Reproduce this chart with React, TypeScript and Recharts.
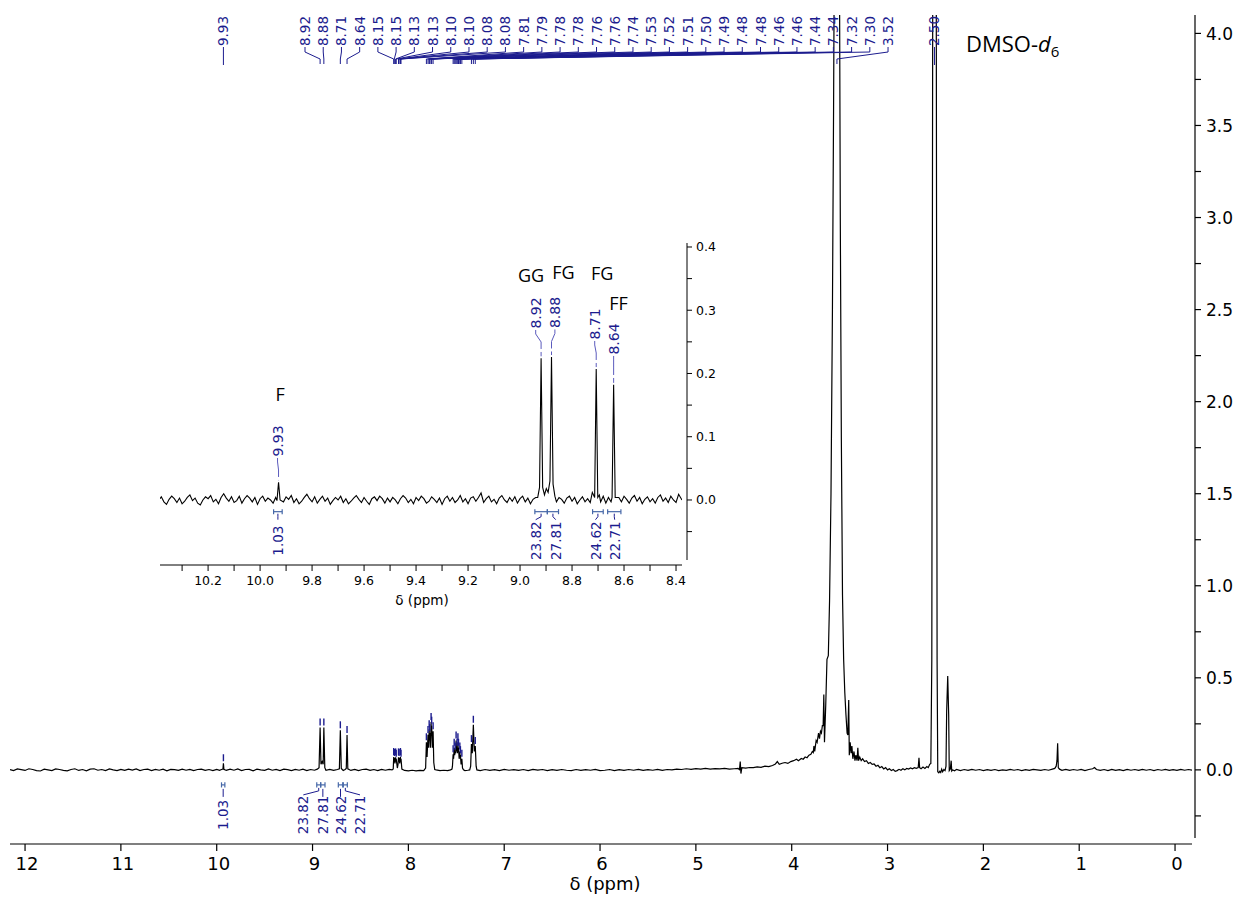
import React from 'react';
import { LineChart, Line, XAxis, YAxis, ReferenceDot, ReferenceLine } from 'recharts';

type Pt = [number, number];

// ---------------- axis ticks ----------------
const mainXTicks = [0, 1, 2, 3, 4, 5, 6, 7, 8, 9, 10, 11, 12];
const mainYTicks = [-0.25, 0, 0.25, 0.5, 0.75, 1, 1.25, 1.5, 1.75, 2, 2.25, 2.5, 2.75, 3, 3.25, 3.5, 3.75, 4];
const insetXTicks = [8.4, 8.5, 8.6, 8.7, 8.8, 8.9, 9.0, 9.1, 9.2, 9.3, 9.4, 9.5, 9.6, 9.7, 9.8, 9.9, 10.0, 10.1, 10.2, 10.3];
const insetYTicks = [-0.05, 0, 0.05, 0.1, 0.15, 0.2, 0.25, 0.3, 0.35, 0.4];

// ---------------- main spectrum (ppm, intensity) ----------------
const mainDownfield: Pt[] = [
  [12.157, 0.002], [12.12, -0.004], [12.08, 0.005], [12.04, 0.001], [12.0, -0.003], [11.96, 0.006], [11.92, 0.002], [11.88, -0.004], [11.84, -0.006], [11.8, 0.004],
  [11.76, 0.0], [11.72, -0.004], [11.68, 0.005], [11.64, 0.002], [11.6, -0.003], [11.56, -0.005], [11.52, 0.002], [11.48, 0.006], [11.44, -0.003], [11.4, 0.002],
  [11.36, -0.005], [11.32, 0.004], [11.28, 0.006], [11.24, -0.002], [11.2, 0.002], [11.16, -0.004], [11.12, 0.005], [11.08, 0.0], [11.04, -0.004], [11.0, 0.003],
  [10.96, -0.003], [10.92, 0.004], [10.88, -0.001], [10.84, 0.005], [10.8, -0.004], [10.76, 0.002], [10.72, 0.004], [10.68, -0.004], [10.64, 0.003], [10.6, -0.002],
  [10.56, 0.004], [10.52, -0.005], [10.48, 0.003], [10.44, 0.001], [10.4, -0.003], [10.36, 0.004], [10.32, -0.002], [10.28, 0.003], [10.24, -0.004], [10.2, 0.002],
  [10.16, 0.004], [10.12, -0.003], [10.08, 0.002], [10.04, -0.004], [10.0, 0.003], [9.97, -0.002], [9.95, 0.002],
  [9.935, 0.004], [9.93, 0.036], [9.925, 0.003],
  [9.9, -0.003], [9.86, 0.004], [9.82, -0.002], [9.78, 0.005], [9.74, -0.004], [9.7, 0.002], [9.66, 0.003], [9.62, -0.005], [9.58, 0.004], [9.54, 0.0],
  [9.5, -0.003], [9.46, 0.005], [9.42, -0.002], [9.38, 0.003], [9.34, -0.004], [9.3, 0.004], [9.26, 0.001], [9.22, -0.004], [9.18, 0.003], [9.14, -0.002],
  [9.1, 0.004], [9.06, -0.004], [9.02, 0.002], [8.98, -0.002], [8.95, 0.004],
];
const mainLowFieldPeaks: Pt[] = [
  [8.932, 0.012], [8.921, 0.23], [8.912, 0.03], [8.9, 0.045], [8.889, 0.03], [8.882, 0.23], [8.872, 0.012],
  [8.86, -0.002], [8.82, 0.003], [8.78, -0.003], [8.74, 0.002],
  [8.72, 0.006], [8.71, 0.215], [8.7, 0.008],
  [8.68, -0.003], [8.66, 0.002],
  [8.648, 0.008], [8.64, 0.19], [8.632, 0.006],
  [8.6, -0.003], [8.56, 0.003], [8.52, -0.004], [8.48, 0.002], [8.44, 0.004], [8.4, -0.003], [8.36, 0.002], [8.32, -0.004], [8.28, 0.003], [8.24, -0.002], [8.2, 0.003], [8.17, 0.0],
];
const mainAromatic: Pt[] = [
  [8.158, 0.005], [8.153, 0.07], [8.15, 0.045], [8.147, 0.065], [8.14, 0.035], [8.133, 0.068], [8.13, 0.045], [8.127, 0.06], [8.115, 0.01],
  [8.108, 0.03], [8.103, 0.068], [8.1, 0.045], [8.097, 0.065], [8.09, 0.035], [8.083, 0.07], [8.08, 0.045], [8.077, 0.06], [8.068, 0.004],
  [8.04, -0.003], [8.0, -0.005], [7.96, -0.002], [7.92, -0.005], [7.88, -0.003], [7.84, -0.004],
  [7.82, 0.01], [7.812, 0.15], [7.805, 0.07], [7.795, 0.19], [7.789, 0.12], [7.783, 0.22], [7.78, 0.16], [7.777, 0.2], [7.77, 0.12],
  [7.763, 0.26], [7.76, 0.2], [7.757, 0.24], [7.75, 0.12], [7.742, 0.21], [7.735, 0.04], [7.725, 0.002],
  [7.71, 0.0], [7.67, -0.004], [7.63, -0.002], [7.59, -0.004], [7.56, 0.0],
  [7.545, 0.004], [7.54, 0.02], [7.533, 0.085], [7.528, 0.06], [7.522, 0.12], [7.517, 0.08], [7.512, 0.1], [7.507, 0.09], [7.502, 0.16], [7.497, 0.1],
  [7.492, 0.12], [7.488, 0.09], [7.483, 0.15], [7.48, 0.11], [7.477, 0.12], [7.47, 0.06], [7.463, 0.1], [7.46, 0.07], [7.457, 0.08], [7.45, 0.03],
  [7.442, 0.06], [7.435, 0.01], [7.425, 0.0],
  [7.41, -0.004], [7.38, -0.002],
  [7.36, 0.0], [7.35, 0.02], [7.342, 0.14], [7.333, 0.09], [7.322, 0.245], [7.312, 0.1], [7.302, 0.13], [7.293, 0.02], [7.285, 0.0],
];
const mainMidBaseline: Pt[] = [
  [7.25, -0.004], [7.2, 0.002], [7.15, -0.003], [7.1, 0.001], [7.05, -0.004], [7.0, 0.003], [6.95, -0.002], [6.9, 0.001], [6.85, -0.003], [6.8, 0.002],
  [6.75, -0.004], [6.7, 0.003], [6.65, -0.001], [6.6, 0.002], [6.55, -0.004], [6.5, 0.001], [6.45, -0.003], [6.4, 0.002], [6.35, -0.002], [6.3, -0.004],
  [6.25, 0.002], [6.2, -0.003], [6.15, 0.001], [6.1, -0.002], [6.05, 0.003], [6.0, -0.004], [5.95, -0.002], [5.9, 0.002], [5.85, -0.004], [5.8, 0.001],
  [5.75, -0.003], [5.7, 0.002], [5.65, -0.002], [5.6, 0.003], [5.55, -0.003], [5.5, 0.001], [5.45, -0.002], [5.4, 0.003], [5.35, -0.003], [5.3, 0.002],
  [5.25, 0.0], [5.2, 0.004], [5.15, 0.002], [5.1, 0.006], [5.05, 0.003], [5.0, 0.007], [4.95, 0.004], [4.9, 0.008], [4.85, 0.004], [4.8, 0.007],
  [4.75, 0.005], [4.7, 0.008], [4.65, 0.004], [4.6, 0.006],
];
const mainWaterRegion: Pt[] = [
  [4.56, 0.008], [4.545, 0.002], [4.537, 0.045], [4.53, -0.02], [4.52, 0.012], [4.48, 0.01], [4.44, 0.013], [4.4, 0.012], [4.36, 0.016], [4.32, 0.014],
  [4.28, 0.02], [4.24, 0.018], [4.2, 0.024], [4.17, 0.032], [4.15, 0.045], [4.13, 0.03], [4.1, 0.036], [4.07, 0.04], [4.04, 0.035], [4.01, 0.045],
  [3.98, 0.05], [3.95, 0.058], [3.93, 0.05], [3.9, 0.062], [3.88, 0.058], [3.86, 0.07], [3.84, 0.066], [3.82, 0.08], [3.8, 0.085], [3.785, 0.1],
  [3.775, 0.094], [3.768, 0.13], [3.76, 0.1], [3.745, 0.16], [3.735, 0.15], [3.72, 0.2], [3.71, 0.17], [3.7, 0.21], [3.69, 0.2], [3.68, 0.24],
  [3.672, 0.24], [3.665, 0.41], [3.658, 0.15], [3.645, 0.35], [3.632, 0.6], [3.618, 0.62], [3.605, 0.92], [3.59, 1.5], [3.575, 2.5], [3.563, 3.6],
  [3.554, 4.6], [3.542, 9], [3.528, 30], [3.514, 9], [3.503, 4.6], [3.493, 3.0], [3.482, 1.8], [3.47, 0.95], [3.458, 0.6], [3.446, 0.42],
  [3.434, 0.3], [3.422, 0.2], [3.414, 0.19], [3.405, 0.38], [3.399, 0.08], [3.39, 0.15], [3.38, 0.09], [3.372, 0.13], [3.362, 0.06], [3.35, 0.1],
  [3.34, 0.05], [3.33, 0.08], [3.318, 0.05], [3.31, 0.12], [3.302, 0.05], [3.29, 0.07], [3.275, 0.05], [3.26, 0.06], [3.24, 0.045], [3.22, 0.05],
  [3.2, 0.035], [3.18, 0.04], [3.16, 0.03], [3.14, 0.032], [3.12, 0.02], [3.1, 0.025], [3.08, 0.012], [3.06, 0.018], [3.04, 0.005], [3.02, 0.012],
  [3.0, 0.0], [2.98, 0.006], [2.96, -0.004], [2.94, 0.002], [2.92, -0.008], [2.9, -0.004], [2.88, 0.003], [2.86, -0.002], [2.84, 0.006], [2.82, 0.0],
  [2.8, 0.008], [2.78, 0.004], [2.76, 0.01], [2.74, 0.006], [2.72, 0.012], [2.7, 0.008], [2.68, 0.012], [2.672, 0.065], [2.665, 0.012], [2.65, 0.006],
  [2.63, 0.015], [2.61, 0.008], [2.59, 0.018], [2.575, 0.012], [2.56, 0.03], [2.548, 0.035],
];
const mainSolventRegion: Pt[] = [
  [2.538, 0.6], [2.528, 4.4], [2.51, 16], [2.492, 4.4], [2.483, 0.6], [2.476, -0.01], [2.465, -0.016], [2.455, -0.008], [2.445, -0.014], [2.435, 0.004],
  [2.425, -0.01], [2.412, 0.002], [2.4, -0.004], [2.39, 0.02], [2.383, 0.32], [2.372, 0.51], [2.362, 0.3], [2.356, -0.004], [2.345, 0.004], [2.336, 0.05],
  [2.33, -0.006], [2.32, 0.0], [2.3, -0.005],
];
const mainUpfield: Pt[] = [
  [2.28, 0.003], [2.24, -0.004], [2.2, 0.002], [2.16, -0.003], [2.12, 0.003], [2.08, -0.002], [2.04, 0.002], [2.0, -0.004], [1.96, 0.001], [1.92, -0.003],
  [1.88, 0.002], [1.84, -0.004], [1.8, 0.0], [1.76, -0.003], [1.72, 0.003], [1.68, -0.002], [1.64, 0.002], [1.6, -0.004], [1.56, 0.001], [1.52, -0.003],
  [1.48, 0.003], [1.44, 0.0], [1.4, -0.003], [1.36, 0.002], [1.32, -0.002], [1.28, 0.004],
  [1.255, 0.008], [1.24, 0.02], [1.232, 0.05], [1.225, 0.145], [1.218, 0.012], [1.205, 0.004],
  [1.18, -0.002], [1.14, 0.003], [1.1, -0.003], [1.06, 0.002], [1.02, -0.002], [0.98, 0.003], [0.94, -0.004], [0.9, 0.002], [0.86, 0.006], [0.84, 0.013],
  [0.82, 0.002], [0.78, -0.003], [0.74, 0.002], [0.7, -0.004], [0.66, 0.003], [0.62, -0.003], [0.58, 0.001], [0.54, -0.004], [0.5, 0.003], [0.46, -0.002],
  [0.42, 0.002], [0.38, -0.003], [0.34, 0.003], [0.3, -0.002], [0.26, 0.002], [0.22, -0.004], [0.18, 0.002], [0.14, -0.002], [0.1, 0.003], [0.06, -0.003],
  [0.02, 0.001], [-0.02, -0.003], [-0.06, 0.003], [-0.1, -0.002], [-0.14, 0.002], [-0.177, -0.001],
];

// ---------------- inset spectrum (ppm, intensity) ----------------
const insetSpectrum: Pt[] = [
  [10.385, 0.002], [10.38, 0.005], [10.37, -0.003], [10.36, -0.007], [10.35, 0.001], [10.34, 0.006], [10.33, 0.002], [10.32, -0.004], [10.31, 0.003], [10.3, -0.006],
  [10.29, -0.002], [10.28, 0.004], [10.27, 0.008], [10.26, -0.001], [10.25, 0.003], [10.24, -0.005], [10.23, -0.008], [10.22, 0.0], [10.21, 0.005], [10.2, 0.002],
  [10.19, 0.007], [10.18, -0.003], [10.17, 0.001], [10.16, -0.006], [10.15, 0.004], [10.14, 0.01], [10.13, 0.003], [10.12, -0.002], [10.11, 0.005], [10.1, -0.004],
  [10.09, -0.001], [10.08, 0.006], [10.07, -0.005], [10.06, 0.002], [10.05, 0.007], [10.04, 0.003], [10.03, -0.003], [10.02, 0.004], [10.01, -0.007], [10.0, 0.002],
  [9.99, 0.006], [9.98, -0.002], [9.97, 0.003], [9.96, 0.0], [9.95, -0.005], [9.94, 0.004], [9.935, -0.001], [9.929, 0.028], [9.923, 0.0],
  [9.91, -0.003], [9.9, 0.005], [9.89, 0.001], [9.88, 0.007], [9.87, -0.004], [9.86, 0.002], [9.85, -0.006], [9.84, -0.002], [9.83, 0.004], [9.82, 0.009],
  [9.81, 0.002], [9.8, -0.003], [9.79, 0.005], [9.78, -0.005], [9.77, 0.001], [9.76, 0.006], [9.75, -0.002], [9.74, 0.003], [9.73, -0.007], [9.72, -0.001],
  [9.71, 0.004], [9.7, 0.0], [9.69, 0.006], [9.68, -0.004], [9.67, 0.002], [9.66, -0.006], [9.65, -0.002], [9.64, 0.003], [9.63, 0.007], [9.62, 0.001],
  [9.61, -0.004], [9.6, 0.004], [9.59, -0.002], [9.58, -0.007], [9.57, 0.002], [9.56, 0.005], [9.55, -0.001], [9.54, 0.006], [9.53, 0.002], [9.52, -0.005],
  [9.51, 0.003], [9.5, -0.003], [9.49, 0.004], [9.48, 0.0], [9.47, -0.006], [9.46, 0.002], [9.45, 0.007], [9.44, 0.003], [9.43, -0.004], [9.42, 0.001],
  [9.41, -0.006], [9.4, 0.004], [9.39, -0.001], [9.38, 0.006], [9.37, 0.002], [9.36, -0.005], [9.35, -0.002], [9.34, 0.005], [9.33, 0.001], [9.32, -0.004],
  [9.31, 0.003], [9.3, -0.007], [9.29, 0.002], [9.28, 0.006], [9.27, -0.002], [9.26, 0.004], [9.25, -0.004], [9.24, 0.0], [9.23, 0.007], [9.22, -0.003],
  [9.21, 0.002], [9.2, -0.006], [9.19, 0.003], [9.18, 0.005], [9.17, -0.002], [9.16, 0.004], [9.15, 0.011], [9.14, -0.004], [9.13, 0.002], [9.12, 0.006],
  [9.11, -0.003], [9.1, 0.001], [9.09, -0.006], [9.08, 0.003], [9.07, 0.007], [9.06, 0.0], [9.05, -0.004], [9.04, 0.004], [9.03, -0.002], [9.02, 0.005],
  [9.01, -0.005], [9.0, 0.002], [8.99, 0.006], [8.98, -0.003], [8.97, 0.003], [8.96, -0.006], [8.95, 0.001], [8.94, 0.004],
  [8.932, 0.004], [8.925, 0.02], [8.919, 0.224], [8.913, 0.02], [8.906, 0.008], [8.899, 0.018], [8.892, 0.012], [8.885, 0.03], [8.879, 0.226], [8.873, 0.025], [8.866, 0.006],
  [8.86, -0.003], [8.85, 0.004], [8.84, 0.001], [8.83, -0.005], [8.82, 0.003], [8.81, 0.006], [8.8, -0.002], [8.79, 0.004], [8.78, -0.006], [8.77, 0.0],
  [8.76, 0.005], [8.75, -0.003], [8.74, 0.002], [8.73, -0.004], [8.722, 0.012], [8.713, 0.004], [8.707, 0.207], [8.701, 0.004], [8.695, 0.008], [8.69, -0.003],
  [8.68, 0.006], [8.67, -0.005], [8.66, 0.004], [8.65, -0.003], [8.646, 0.004], [8.64, 0.182], [8.634, 0.004],
  [8.62, 0.004], [8.61, -0.003], [8.6, 0.006], [8.59, 0.001], [8.58, -0.005], [8.57, 0.003], [8.56, 0.007], [8.55, -0.002], [8.54, 0.004], [8.53, -0.006],
  [8.52, 0.001], [8.51, 0.005], [8.5, -0.003], [8.49, 0.002], [8.48, -0.005], [8.47, 0.004], [8.46, 0.008], [8.45, -0.002], [8.44, 0.003], [8.43, -0.004],
  [8.42, 0.006], [8.41, 0.0], [8.4, -0.004], [8.39, 0.009], [8.377, 0.0],
];

// ---------------- peak picking (main) ----------------
const topLabels = ['8.92', '8.88', '8.71', '8.64', '8.15', '8.15', '8.13', '8.13', '8.10', '8.10', '8.08', '8.08', '7.81', '7.79', '7.78', '7.78', '7.76', '7.76', '7.74', '7.53', '7.52', '7.51', '7.50', '7.49', '7.48', '7.48', '7.46', '7.46', '7.44', '7.34', '7.32', '7.30', '3.52'];
const topPeakPpm = [8.921, 8.882, 8.71, 8.64, 8.153, 8.147, 8.133, 8.127, 8.103, 8.097, 8.083, 8.077, 7.812, 7.795, 7.783, 7.777, 7.763, 7.757, 7.742, 7.533, 7.522, 7.512, 7.502, 7.492, 7.483, 7.477, 7.463, 7.457, 7.442, 7.342, 7.322, 7.302, 3.528];
const topPeakHeight = [0.23, 0.23, 0.215, 0.19, 0.07, 0.065, 0.068, 0.06, 0.068, 0.065, 0.07, 0.06, 0.15, 0.19, 0.22, 0.2, 0.26, 0.24, 0.21, 0.085, 0.12, 0.1, 0.16, 0.12, 0.15, 0.12, 0.1, 0.08, 0.06, 0.14, 0.245, 0.13, 30];
const isolatedLabels = ['9.93', '2.50'];
const isolatedPpm = [9.93, 2.51];
const isolatedHeight = [0.036, 16];

// ---------------- integrals ----------------
const mainIntegralLabels = ['1.03', '23.82', '27.81', '24.62', '22.71'];
const mainIntegralFrom = [9.95, 8.956, 8.915, 8.731, 8.679];
const mainIntegralTo = [9.915, 8.915, 8.87, 8.685, 8.637];

const insetPeakLabels = ['9.93', '8.92', '8.88', '8.71', '8.64'];
const insetPeakPpm = [9.929, 8.919, 8.879, 8.707, 8.64];
const insetPeakHeight = [0.028, 0.224, 0.226, 0.207, 0.182];
const insetAssignments = ['F', 'GG', 'FG', 'FG', 'FF'];

const insetIntegralLabels = ['1.03', '23.82', '27.81', '24.62', '22.71'];
const insetIntegralFrom = [9.948, 8.943, 8.895, 8.721, 8.663];
const insetIntegralTo = [9.915, 8.895, 8.852, 8.68, 8.612];

// ---------------- styling / layout constants ----------------
const NAVY = '#1c1c8e';
const INT_BLUE = '#4668a8';
const DASH_BLUE = '#5b5bbd';
const AXIS_FONT = 'DejaVu Sans, Verdana, sans-serif';
const LABEL_FONT = 'Open Sans, Noto Sans, sans-serif';

const TOP_ANCHOR = 3.861; // y-level where pick lines meet
const TOP_LABEL_X0 = 305;
const TOP_LABEL_DX = 18.22;
const MAIN_INT_Y = -0.0815;
const INSET_INT_Y = -0.0185;
const INSET_PX_PER_UNIT = 632.5;

// label layout offsets for inset picks (pixels relative to peak x / baseline)
const insetLabelDx = [-1, -5.4, 3.4, -1.5, 0];
const insetLabelDy = [-59, -187, -187.5, -176, -161];
const insetAssignDx = [1.5, -10, 12, 6, 5];
const insetAssignDy = [-99, -218, -221, -220, -190];
const insetIntLabelDx = [0, -5.4, 2.8, -2.4, 0.4];
const mainIntLabelX = [221.7, 303.3, 321.7, 340.7, 360];

const mainData = [
  ...mainDownfield, ...mainLowFieldPeaks, ...mainAromatic, ...mainMidBaseline,
  ...mainWaterRegion, ...mainSolventRegion, ...mainUpfield,
].map(([ppm, v]) => ({ ppm, v }));
const insetData = insetSpectrum.map(([ppm, v]) => ({ ppm, v }));

// ---------------- tick renderers ----------------
const MainXTick = (p: any) => {
  const { x, y, payload } = p;
  return (
    <g>
      <line x1={x} x2={x} y1={y + 6} y2={y + 13} stroke="#000" strokeWidth={1.2} />
      <text x={x + 2} y={y + 32} textAnchor="middle" fontSize={18} fontFamily={AXIS_FONT} fill="#000">{String(payload.value)}</text>
    </g>
  );
};
const MainYTick = (p: any) => {
  const { x, y, payload } = p;
  const v = payload.value as number;
  const major = Math.abs(v * 2 - Math.round(v * 2)) < 1e-6;
  return (
    <g>
      <line x1={x + 3} x2={x + 9} y1={y} y2={y} stroke="#000" strokeWidth={1.2} />
      {major && (
        <text x={x + 14} y={y} dy="0.36em" textAnchor="start" fontSize={17} fontFamily={AXIS_FONT} fill="#000">{v.toFixed(1)}</text>
      )}
    </g>
  );
};
const InsetXTick = (p: any) => {
  const { x, y, payload } = p;
  const v = payload.value as number;
  const major = Math.round(v * 10) % 2 === 0;
  return (
    <g>
      <line x1={x} x2={x} y1={y + 5} y2={y + 11} stroke="#000" strokeWidth={1} />
      {major && (
        <text x={x} y={y + 25} textAnchor="middle" fontSize={12.5} fontFamily={AXIS_FONT} fill="#000">{v.toFixed(1)}</text>
      )}
    </g>
  );
};
const InsetYTick = (p: any) => {
  const { x, y, payload } = p;
  const v = payload.value as number;
  const major = Math.abs(v * 10 - Math.round(v * 10)) < 1e-6;
  return (
    <g>
      <line x1={x + 5} x2={x + 10} y1={y} y2={y} stroke="#000" strokeWidth={1} />
      {major && (
        <text x={x + 14} y={y} dy="0.36em" textAnchor="start" fontSize={12.5} fontFamily={AXIS_FONT} fill="#000">{v.toFixed(1)}</text>
      )}
    </g>
  );
};

// ---------------- annotation shapes ----------------
const RotText = ({ x, y, text, size, color }: any) => (
  <text transform={`translate(${x},${y}) rotate(-90)`} textAnchor="middle" dominantBaseline="central" fontSize={size} fontFamily={AXIS_FONT} fill={color}>{text}</text>
);

const makeTopPick = (lx: number | null, text: string) => (p: any) => {
  const { cx, cy } = p;
  const x0 = lx === null ? cx : lx;
  return (
    <g>
      <RotText x={x0} y={cy - 28} text={text} size={13.5} color={NAVY} />
      {lx === null ? (
        <line x1={cx} x2={cx} y1={cy - 12} y2={cy + 6} stroke={NAVY} strokeWidth={1} />
      ) : (
        <polyline points={`${lx},${cy - 12} ${lx},${cy - 7} ${cx},${cy} ${cx},${cy + 5}`} fill="none" stroke={NAVY} strokeWidth={1} />
      )}
    </g>
  );
};
const peakTopDash = (p: any) => (
  <line x1={p.cx} x2={p.cx} y1={p.cy - 2} y2={p.cy - 9} stroke={NAVY} strokeWidth={1.4} />
);
const makeMainIntLabel = (lx: number, text: string) => (p: any) => {
  const { cx, cy } = p;
  const straight = Math.abs(lx - cx) < 3;
  const x0 = straight ? cx : lx;
  return (
    <g>
      {straight ? (
        <line x1={cx} x2={cx} y1={cy + 4} y2={cy + 12} stroke={NAVY} strokeWidth={1} />
      ) : (
        <polyline points={`${cx},${cy + 3} ${cx},${cy + 6} ${lx},${cy + 10}`} fill="none" stroke={NAVY} strokeWidth={1} />
      )}
      <RotText x={x0} y={cy + 30} text={text} size={13.5} color={NAVY} />
    </g>
  );
};
const makeInsetPick = (i: number) => (p: any) => {
  const { cx, cy } = p;
  const lx = cx + insetLabelDx[i];
  const ly = cy + insetLabelDy[i];
  const top = cy - insetPeakHeight[i] * INSET_PX_PER_UNIT;
  const bottom = ly + 17;
  return (
    <g>
      <text x={cx + insetAssignDx[i]} y={cy + insetAssignDy[i]} textAnchor="middle" fontSize={18} fontFamily={LABEL_FONT} fill="#000">{insetAssignments[i]}</text>
      <RotText x={lx} y={ly} text={insetPeakLabels[i]} size={14} color={NAVY} />
      <polyline points={`${lx},${bottom} ${lx},${bottom + 4} ${cx},${bottom + 12}`} fill="none" stroke={DASH_BLUE} strokeWidth={1} />
      <line x1={cx} x2={cx} y1={bottom + 12} y2={top - 2} stroke={DASH_BLUE} strokeWidth={1} strokeDasharray="7 3" />
    </g>
  );
};
const makeInsetIntLabel = (dx: number, text: string) => (p: any) => {
  const { cx, cy } = p;
  const lx = cx + dx;
  return (
    <g>
      <polyline points={`${cx},${cy + 2} ${cx},${cy + 5} ${lx},${cy + 8}`} fill="none" stroke={NAVY} strokeWidth={1} />
      <RotText x={lx} y={cy + 29} text={text} size={13.5} color={NAVY} />
    </g>
  );
};

const bracket = (key: string, a: number, b: number, yv: number, h: number) => [
  <ReferenceLine key={key + 'h'} segment={[{ x: a, y: yv }, { x: b, y: yv }]} stroke={INT_BLUE} strokeWidth={1.2} ifOverflow="visible" />,
  <ReferenceLine key={key + 'a'} segment={[{ x: a, y: yv - h }, { x: a, y: yv + h }]} stroke={INT_BLUE} strokeWidth={1.2} ifOverflow="visible" />,
  <ReferenceLine key={key + 'b'} segment={[{ x: b, y: yv - h }, { x: b, y: yv + h }]} stroke={INT_BLUE} strokeWidth={1.2} ifOverflow="visible" />,
];

export default function App() {
  return (
    <div style={{ position: 'absolute', left: 0, top: 0, width: 1239, height: 899, background: '#fff' }}>
      <div style={{ position: 'absolute', left: 0, top: 0 }}>
        <LineChart width={1239} height={899} data={mainData} margin={{ top: 15, right: 0, bottom: 11, left: 10 }}>
          <XAxis
            type="number" dataKey="ppm" domain={[-0.177, 12.157]} reversed allowDataOverflow
            ticks={mainXTicks} interval={0} height={50} tickSize={0} tickMargin={0} tickLine={false}
            axisLine={{ stroke: '#000', strokeWidth: 1.2, transform: 'translate(0,6)' }}
            tick={MainXTick}
            label={{ content: (lp: any) => {
              const vb = lp.viewBox;
              return <text x={vb.x + vb.width / 2 + 4} y={vb.y + 52} textAnchor="middle" fontSize={18} fontFamily={AXIS_FONT} fill="#000">δ (ppm)</text>;
            } }}
          />
          <YAxis
            orientation="right" type="number" domain={[-0.37, 4.1]} allowDataOverflow
            ticks={mainYTicks} interval={0} width={47} tickSize={0} tickMargin={0} tickLine={false}
            axisLine={{ stroke: '#000', strokeWidth: 1.2, transform: 'translate(3,0)' }}
            tick={MainYTick}
          />
          <Line type="linear" dataKey="v" stroke="#000" strokeWidth={1.2} dot={false} isAnimationActive={false} />
          {topLabels.map((t, i) => (
            <ReferenceDot key={'tp' + i} x={topPeakPpm[i]} y={TOP_ANCHOR} ifOverflow="visible" shape={makeTopPick(TOP_LABEL_X0 + i * TOP_LABEL_DX, t)} />
          ))}
          {isolatedLabels.map((t, i) => (
            <ReferenceDot key={'ip' + i} x={isolatedPpm[i]} y={TOP_ANCHOR} ifOverflow="visible" shape={makeTopPick(null, t)} />
          ))}
          {topPeakPpm.map((x, i) => topPeakHeight[i] < 4 ? (
            <ReferenceDot key={'pd' + i} x={x} y={topPeakHeight[i]} ifOverflow="visible" shape={peakTopDash} />
          ) : null)}
          {isolatedPpm.map((x, i) => isolatedHeight[i] < 4 ? (
            <ReferenceDot key={'id' + i} x={x} y={isolatedHeight[i]} ifOverflow="visible" shape={peakTopDash} />
          ) : null)}
          {mainIntegralFrom.map((a, i) => bracket('mi' + i, a, mainIntegralTo[i], MAIN_INT_Y, 0.014))}
          {mainIntegralLabels.map((t, i) => (
            <ReferenceDot key={'ml' + i} x={(mainIntegralFrom[i] + mainIntegralTo[i]) / 2} y={MAIN_INT_Y} ifOverflow="visible" shape={makeMainIntLabel(mainIntLabelX[i], t)} />
          ))}
        </LineChart>
      </div>

      <div style={{ position: 'absolute', left: 140, top: 220 }}>
        <LineChart width={620} height={420} data={insetData} margin={{ top: 23, right: 17, bottom: 30, left: 20 }}>
          <XAxis
            type="number" dataKey="ppm" domain={[8.377, 10.385]} reversed allowDataOverflow
            ticks={insetXTicks} interval={0} height={50} tickSize={0} tickMargin={0} tickLine={false}
            axisLine={{ stroke: '#000', strokeWidth: 1, transform: 'translate(0,5)' }}
            tick={InsetXTick}
            label={{ content: (lp: any) => {
              const vb = lp.viewBox;
              return <text x={vb.x + vb.width / 2 + 1} y={vb.y + 45} textAnchor="middle" fontSize={13.5} fontFamily={AXIS_FONT} fill="#000">δ (ppm)</text>;
            } }}
          />
          <YAxis
            orientation="right" type="number" domain={[-0.0949, 0.4063]} allowDataOverflow
            ticks={insetYTicks} interval={0} width={61} tickSize={0} tickMargin={0} tickLine={false}
            axisLine={{ stroke: '#000', strokeWidth: 1, transform: 'translate(5,0)' }}
            tick={InsetYTick}
          />
          <Line type="linear" dataKey="v" stroke="#000" strokeWidth={1.1} dot={false} isAnimationActive={false} />
          {insetPeakPpm.map((x, i) => (
            <ReferenceDot key={'ik' + i} x={x} y={0} ifOverflow="visible" shape={makeInsetPick(i)} />
          ))}
          {insetIntegralFrom.map((a, i) => bracket('ii' + i, a, insetIntegralTo[i], INSET_INT_Y, 0.004))}
          {insetIntegralLabels.map((t, i) => (
            <ReferenceDot key={'il' + i} x={(insetIntegralFrom[i] + insetIntegralTo[i]) / 2} y={INSET_INT_Y} ifOverflow="visible" shape={makeInsetIntLabel(insetIntLabelDx[i], t)} />
          ))}
        </LineChart>
      </div>

      <svg width={1239} height={899} style={{ position: 'absolute', left: 0, top: 0, pointerEvents: 'none' }}>
        <text x={966} y={52} fontSize={22} fontFamily={LABEL_FONT} fill="#000">
          DMSO-<tspan fontStyle="italic">d</tspan><tspan fontSize={15} dy={5}>6</tspan>
        </text>
      </svg>
    </div>
  );
}
